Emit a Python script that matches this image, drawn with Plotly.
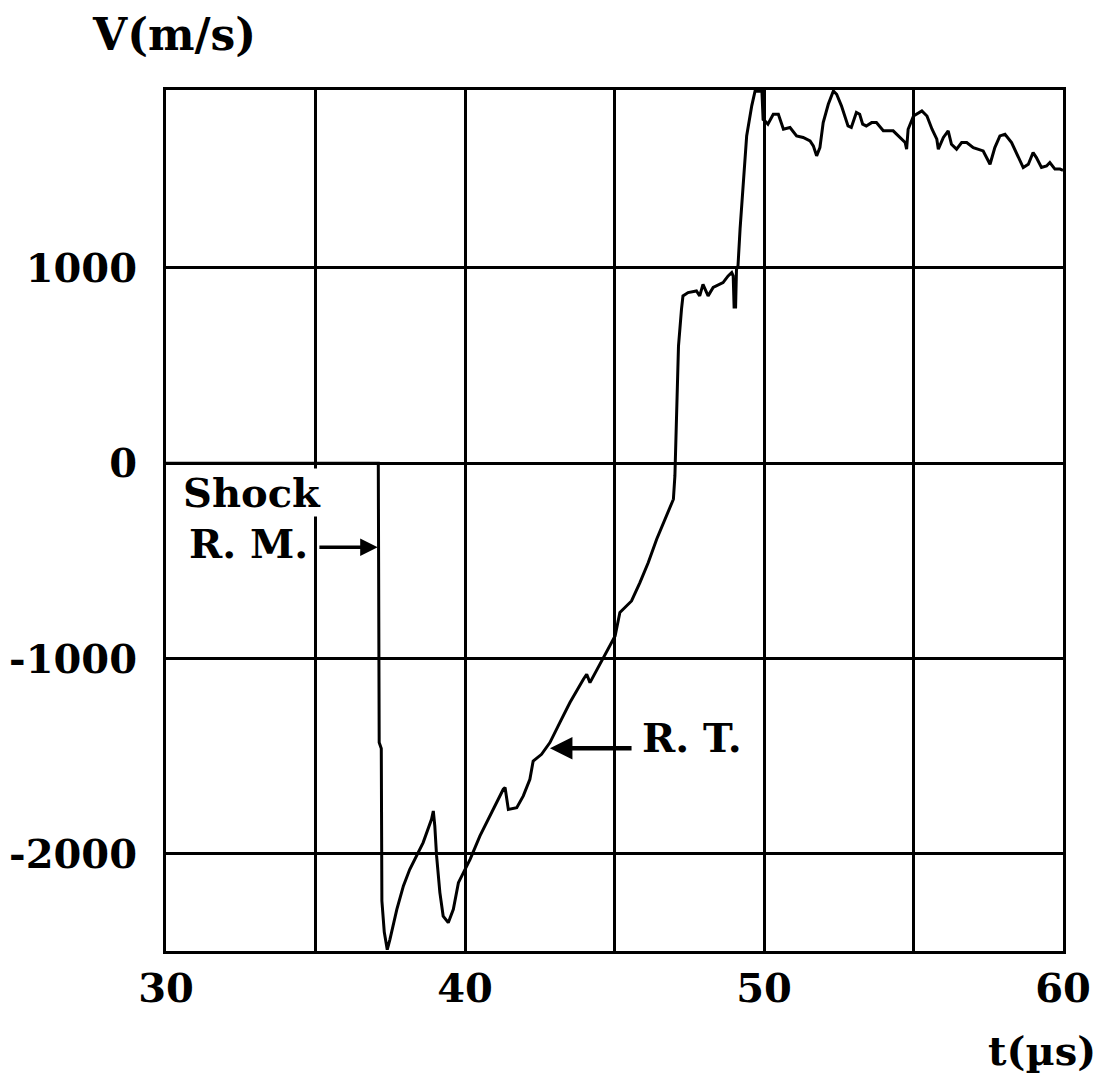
import plotly.graph_objects as go

# ---- data ----
t_us = [30.0, 37.10, 37.13, 37.20, 37.22, 37.30, 37.40, 37.49, 37.72, 37.94, 38.15, 38.38,
        38.60, 38.88, 38.94, 38.99, 39.05, 39.16, 39.27, 39.44, 39.61, 39.78, 39.95, 40.17,
        40.50, 40.84, 41.28, 41.34, 41.45, 41.73, 41.95, 42.17, 42.28, 42.56, 42.84, 43.18,
        43.51, 43.96, 44.07, 44.18, 44.52, 45.02, 45.18, 45.57, 45.85, 46.13, 46.41, 46.74,
        46.97, 47.02, 47.05, 47.08, 47.14, 47.24, 47.29, 47.46, 47.74, 47.85, 47.96, 48.13,
        48.30, 48.63, 48.80, 48.92, 48.97, 49.00, 49.05, 49.08, 49.13, 49.20, 49.31, 49.42,
        49.59, 49.70, 49.93, 49.97, 50.03, 50.13, 50.31, 50.48, 50.65, 50.87, 51.09, 51.31,
        51.54, 51.65, 51.76, 51.87, 51.98, 52.15, 52.32, 52.43, 52.59, 52.81, 52.92, 53.09,
        53.20, 53.30, 53.42, 53.60, 53.76, 53.99, 54.32, 54.55, 54.72, 54.77, 54.82, 55.00,
        55.28, 55.45, 55.62, 55.78, 55.83, 56.00, 56.16, 56.27, 56.44, 56.61, 56.78, 57.00,
        57.33, 57.56, 57.72, 57.89, 58.06, 58.28, 58.45, 58.67, 58.84, 59.00, 59.11, 59.28,
        59.45, 59.56, 59.73, 59.90, 60.00]
v_ms = [0, 0, -1430, -1460, -2240, -2400, -2490, -2437, -2284, -2164, -2080, -2010,
        -1942, -1823, -1780, -1857, -2010, -2198, -2318, -2352, -2284, -2147, -2096, -2028,
        -1908, -1806, -1669, -1660, -1772, -1763, -1703, -1618, -1524, -1490, -1430, -1325,
        -1225, -1106, -1080, -1123, -1025, -884, -764, -705, -611, -508, -389, -270,
        -184, -65, 72, 260, 600, 788, 857, 874, 882, 857, 916, 857,
        900, 925, 959, 976, 959, 800, 800, 993, 1010, 1200, 1454, 1676,
        1830, 1905, 1905, 1760, 1753, 1736, 1787, 1787, 1710, 1719, 1676, 1668,
        1650, 1625, 1574, 1616, 1744, 1838, 1906, 1889, 1830, 1727, 1719, 1796,
        1787, 1736, 1727, 1744, 1744, 1702, 1702, 1668, 1642, 1608, 1710, 1778,
        1804, 1778, 1710, 1659, 1608, 1668, 1702, 1633, 1608, 1642, 1642, 1616,
        1599, 1531, 1616, 1676, 1684, 1642, 1582, 1514, 1531, 1591, 1565, 1514,
        1522, 1540, 1506, 1506, 1500]

x_grid = [30, 35, 40, 45, 50, 55, 60]
x_ticktext = ["30", "", "40", "", "50", "", "60"]
y_grid = [-2000, -1000, 0, 1000]
y_ticktext = ["-2000", "-1000", "0", "1000"]

FONT = "DejaVu Serif"

fig = go.Figure()
fig.add_trace(go.Scatter(x=t_us, y=v_ms, mode="lines",
                         line=dict(color="black", width=3), showlegend=False,
                         hoverinfo="skip"))

tick_font = dict(family=FONT, size=40, color="black", weight="bold")
fig.update_xaxes(range=[30, 60], tickvals=x_grid, ticktext=x_ticktext,
                 showgrid=True, gridcolor="black", gridwidth=2.5,
                 showline=True, linecolor="black", linewidth=3, mirror=True,
                 ticks="", zeroline=False, ticklabelstandoff=0, automargin=False,
                 tickfont=tick_font)
fig.update_yaxes(range=[-2497, 1911], tickvals=y_grid, ticktext=y_ticktext,
                 showgrid=True, gridcolor="black", gridwidth=2.5,
                 showline=True, linecolor="black", linewidth=3, mirror=True,
                 ticks="", zeroline=False, ticklabelstandoff=18, automargin=False,
                 tickfont=tick_font)

ann_font = dict(family=FONT, size=40, color="black", weight="bold")
fig.add_annotation(text="V(m/s)", xref="paper", yref="paper", x=0.009, y=1.064,
                   xanchor="center", yanchor="middle",
                   showarrow=False, font=dict(family=FONT, size=44, color="black", weight="bold"))
fig.add_annotation(text="t(µs)", xref="paper", yref="paper", x=0.9766, y=-0.115,
                   xanchor="center", yanchor="middle",
                   showarrow=False, font=dict(family=FONT, size=40, color="black", weight="bold"))
fig.add_annotation(text="Shock", xref="x", yref="y", x=30.55, y=-150, xanchor="left",
                   yanchor="middle", showarrow=False, font=ann_font,
                   bgcolor="white", borderpad=0)
fig.add_annotation(text="R. M.", xref="x", yref="y", x=30.7, y=-410, xanchor="left",
                   yanchor="middle", showarrow=False, font=ann_font)
fig.add_annotation(text="R. T.", xref="x", yref="y", x=45.85, y=-1403, xanchor="left",
                   yanchor="middle", showarrow=False, font=ann_font)
# arrows
fig.add_annotation(text="", xref="x", yref="y", axref="x", ayref="y",
                   x=37.08, y=-430, ax=35.08, ay=-430, showarrow=True,
                   arrowhead=2, arrowsize=1, arrowwidth=3.5, arrowcolor="black", standoff=0)
fig.add_annotation(text="", xref="x", yref="y", axref="x", ayref="y",
                   x=42.84, y=-1459, ax=45.62, ay=-1459, showarrow=True,
                   arrowhead=2, arrowsize=1, arrowwidth=4.5, arrowcolor="black", standoff=0)

fig.update_layout(width=1112, height=1091, autosize=False,
                  margin=dict(l=166, r=49, t=90, b=140),
                  paper_bgcolor="white", plot_bgcolor="white",
                  font=dict(family=FONT, color="black"))

fig.write_html("out.html")
